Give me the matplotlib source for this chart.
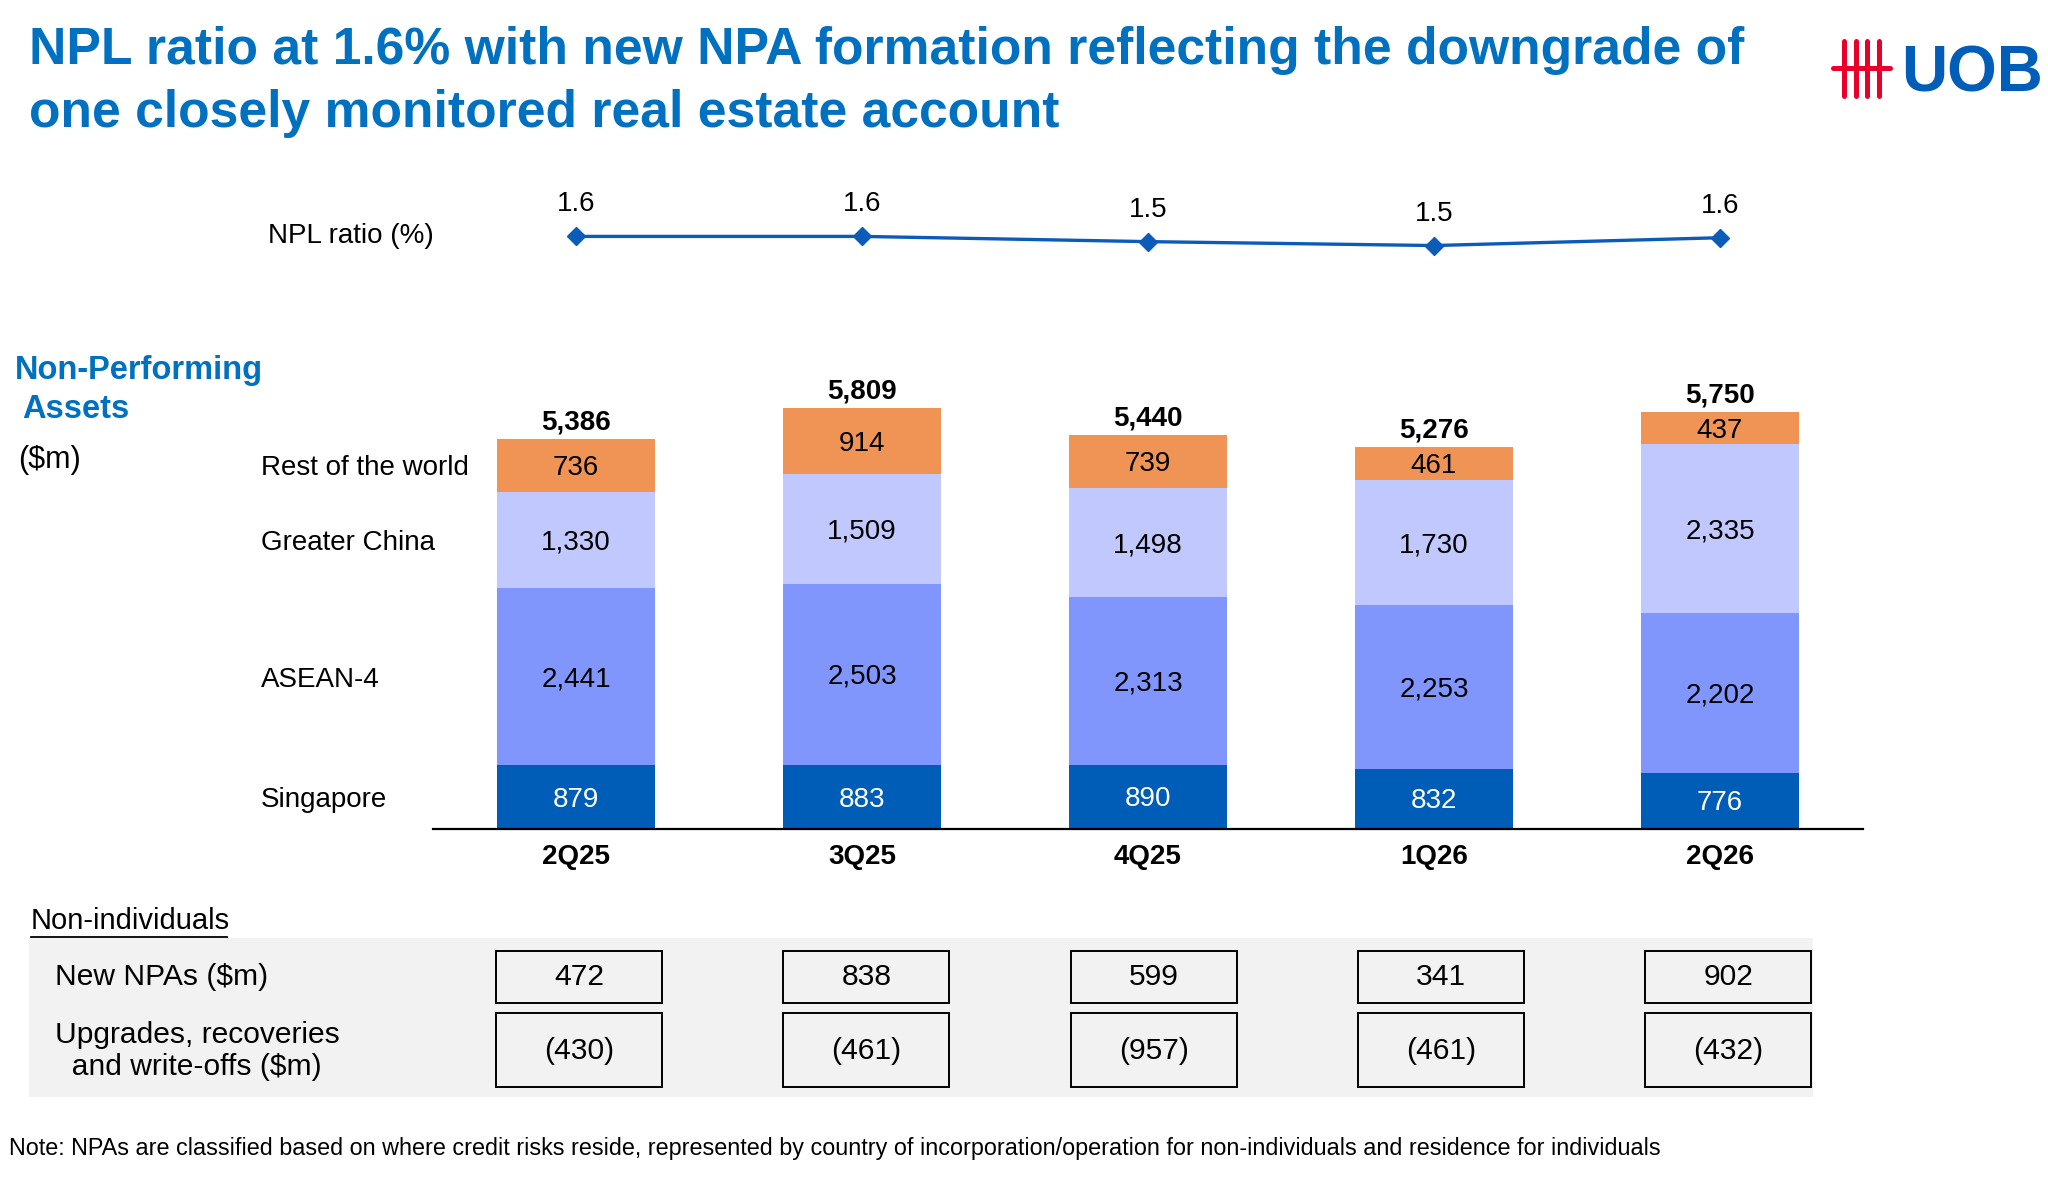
import matplotlib.pyplot as plt
from matplotlib.patches import Rectangle
from matplotlib.transforms import blended_transform_factory, offset_copy

plt.rcParams['font.family'] = ['Liberation Sans', 'DejaVu Sans']

quarters = ['2Q25', '3Q25', '4Q25', '1Q26', '2Q26']
npl_ratio = [1.58, 1.58, 1.54, 1.51, 1.57]
npl_ratio_labels = ['1.6', '1.6', '1.5', '1.5', '1.6']
singapore = [879, 883, 890, 832, 776]
asean4 = [2441, 2503, 2313, 2253, 2202]
greater_china = [1330, 1509, 1498, 1730, 2335]
rest_of_world = [736, 914, 739, 461, 437]
totals = [5386, 5809, 5440, 5276, 5750]
new_npas = [472, 838, 599, 341, 902]
upgrades = [-430, -461, -957, -461, -432]

segment_names = ['Singapore', 'ASEAN-4', 'Greater China', 'Rest of the world']
segments = [singapore, asean4, greater_china, rest_of_world]
colors = ['#005DB7', '#8096FD', '#C0C8FE', '#F09455']
label_colors = ['white', 'black', 'black', 'black']

BLUE = '#0070C0'
W, H = 2048, 1180


def fig_rect(x0, y0, x1, y1):
    # pixel box (top-left origin) -> figure fraction rect
    return [x0 / W, 1 - y1 / H, (x1 - x0) / W, (y1 - y0) / H]


fig = plt.figure(figsize=(W / 100, H / 100), dpi=100)

# overlay in pixel coords for decorations
deco = fig.add_axes([0, 0, 1, 1], zorder=0)
deco.set_xlim(0, W)
deco.set_ylim(H, 0)
deco.axis('off')

# title
deco.text(29, 64, 'NPL ratio at 1.6% with new NPA formation reflecting the downgrade of',
          fontsize=37.2, fontweight='bold', color=BLUE, ha='left', va='baseline')
deco.text(29, 127, 'one closely monitored real estate account',
          fontsize=37.2, fontweight='bold', color=BLUE, ha='left', va='baseline')

# logo
for xv in [1844, 1856, 1867, 1879]:
    deco.plot([xv, xv], [41, 96], color='#E8002A', lw=3.6, solid_capstyle='round')
deco.plot([1833, 1890], [68, 68], color='#E8002A', lw=3.6, solid_capstyle='round')
deco.text(1901, 92, 'UOB', fontsize=46, fontweight='bold', color='#005EB8',
          ha='left', va='baseline')

# NPL ratio line
ax_l = fig.add_axes(fig_rect(433, 207.7, 1863, 259.9))
ax_l.set_xlim(-0.5, 4.5)
ax_l.set_ylim(1.40, 1.80)
ax_l.axis('off')
x = list(range(len(quarters)))
ax_l.plot(x, npl_ratio, color='#0A5CB8', lw=2.4, marker='D', ms=9)
for xi, v, lab in zip(x, npl_ratio, npl_ratio_labels):
    ax_l.annotate(lab, (xi, v), xytext=(0, 23), textcoords='offset points',
                  ha='center', va='center', fontsize=20)
deco.text(268, 236, 'NPL ratio (%)', fontsize=20, va='center', ha='left')

# stacked bars
ax = fig.add_axes(fig_rect(433, 358, 1863, 829))
ax.set_xlim(-0.5, 4.5)
ax.set_ylim(0, 6500)
nudge = offset_copy(ax.transData, fig=fig, x=0, y=-2.5, units='dots')
bottom = [0] * len(quarters)
for name, vals, c, lc in zip(segment_names, segments, colors, label_colors):
    ax.bar(x, vals, width=0.553, bottom=bottom, color=c, zorder=2)
    for xi, b, v in zip(x, bottom, vals):
        ax.text(xi, b + v / 2, f'{v:,}', ha='center', va='center',
                fontsize=20, color=lc, zorder=3, transform=nudge)
    bottom = [b + v for b, v in zip(bottom, vals)]
for xi, t in zip(x, totals):
    ax.annotate(f'{t:,}', (xi, t), xytext=(0, 12), textcoords='offset points',
                ha='center', va='center', fontsize=20, fontweight='bold')

for s in ['top', 'right', 'left']:
    ax.spines[s].set_visible(False)
ax.spines['bottom'].set_linewidth(1.6)
ax.spines['bottom'].set_zorder(4)
ax.set_yticks([])
ax.set_xticks(x)
ax.set_xticklabels(quarters, fontsize=20, fontweight='bold')
ax.tick_params(axis='x', length=0, pad=11)

# category labels aligned with first bar segments
trans = offset_copy(blended_transform_factory(fig.transFigure, ax.transData),
                    fig=fig, x=0, y=-3, units='dots')
cum = 0
for name, vals in zip(segment_names, segments):
    ax.text(261 / W, cum + vals[0] / 2, name, transform=trans, ha='left',
            va='center', fontsize=20)
    cum += vals[0]

deco.text(15, 370, 'Non-Performing', fontsize=23.5, fontweight='bold', color=BLUE,
          ha='left', va='center')
deco.text(22, 409, 'Assets', fontsize=23.5, fontweight='bold', color=BLUE,
          ha='left', va='center')
deco.text(18, 460, '($m)', fontsize=22, ha='left', va='center')

# table section
deco.add_patch(Rectangle((29, 938), 1813 - 29, 1097 - 938, color='#F2F2F2', lw=0))
deco.text(31, 921, 'Non-individuals', fontsize=21, ha='left', va='center')
deco.plot([31, 227], [937, 937], color='black', lw=1.3)
deco.text(55, 977, 'New NPAs ($m)', fontsize=21.6, ha='left', va='center')
deco.text(55, 1051, 'Upgrades, recoveries\n  and write-offs ($m)', fontsize=21.6,
          ha='left', va='center', linespacing=1.2)

# boxes: centres at 579 + i*287.3 px
ax_t = fig.add_axes(fig_rect(579 - 0.5 * 287.3, 938, 579 + 4.5 * 287.3, 1097), zorder=1)
ax_t.set_xlim(-0.5, 4.5)
ax_t.set_ylim(1097, 938)
ax_t.axis('off')
box_w = 166 / 287.3
for xi, n, u in zip(x, new_npas, upgrades):
    ax_t.add_patch(Rectangle((xi - box_w / 2, 951), box_w, 52, fill=False,
                             ec='black', lw=1.4))
    ax_t.text(xi, 977, f'{n:,}', ha='center', va='center', fontsize=21.6)
    ax_t.add_patch(Rectangle((xi - box_w / 2, 1013), box_w, 74, fill=False,
                             ec='black', lw=1.4))
    ax_t.text(xi, 1051, f'({-u:,})', ha='center', va='center', fontsize=21.6)

deco.text(9, 1149,
          'Note: NPAs are classified based on where credit risks reside, represented by '
          'country of incorporation/operation for non-individuals and residence for individuals',
          fontsize=16.85, ha='left', va='center')

fig.savefig('out.png', dpi=100)
